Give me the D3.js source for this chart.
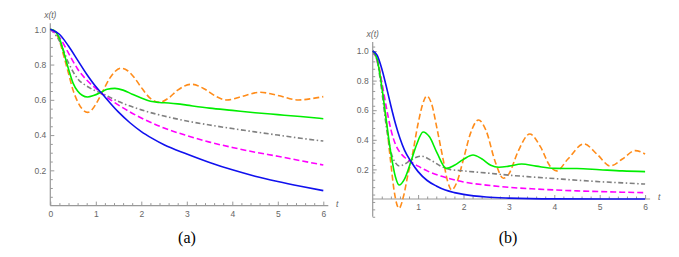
<!DOCTYPE html>
<html>
<head>
<meta charset="utf-8">
<script src="https://cdn.jsdelivr.net/npm/d3@7"></script>
<style>
  body { margin: 0; background: #fff; }
  svg { display: block; }
  .tick text { font-family: "Liberation Sans", Arial, sans-serif; font-size: 8.5px; fill: #666; }
  .tick line { stroke: #999; }
  .domain { stroke: #999; }
  .lbl { font-family: "Liberation Sans", Arial, sans-serif; font-size: 8.5px; font-style: italic; fill: #666; }
  .cap { font-family: "Liberation Serif", "Times New Roman", serif; font-size: 16px; fill: #000; }
</style>
</head>
<body>
<div id="chart"></div>
<script>
// Values: [t, x(t)]
// panel (a)
var blueA = [[0,1],[0.2,0.972],[0.4,0.905],[0.6,0.825],[0.8,0.745],[1.0,0.675],[1.13,0.637],[1.5,0.53],[1.75,0.47],[2.0,0.42],[2.25,0.38],[2.5,0.345],[3.0,0.293],[3.5,0.245],[4.0,0.203],[4.5,0.167],[5.0,0.137],[5.5,0.11],[6.0,0.085]];
var magentaA = [[0,1],[0.2,0.955],[0.4,0.865],[0.6,0.775],[0.8,0.712],[1.0,0.665],[1.13,0.637],[1.5,0.57],[2.0,0.497],[2.5,0.44],[3.0,0.397],[3.5,0.36],[4.0,0.33],[4.5,0.303],[5.0,0.28],[5.5,0.255],[6.0,0.23]];
var grayA = [[0,1],[0.2,0.935],[0.4,0.81],[0.6,0.72],[0.8,0.678],[1.0,0.65],[1.13,0.637],[1.5,0.59],[2.0,0.543],[2.5,0.508],[3.0,0.48],[3.5,0.457],[4.0,0.437],[4.5,0.418],[5.0,0.4],[5.5,0.382],[6.0,0.366]];
var greenA = [[0,1],[0.1,0.99],[0.2,0.95],[0.3,0.865],[0.4,0.775],[0.5,0.695],[0.6,0.65],[0.7,0.626],[0.82,0.616],[0.95,0.624],[1.13,0.645],[1.25,0.66],[1.42,0.665],[1.6,0.655],[1.8,0.632],[2.0,0.61],[2.2,0.592],[2.4,0.585],[2.6,0.582],[2.8,0.577],[3.0,0.57],[3.5,0.553],[4.0,0.54],[4.5,0.527],[5.0,0.516],[5.5,0.505],[6.0,0.493]];
var orangeA = [[0,1],[0.1,0.985],[0.2,0.935],[0.3,0.845],[0.4,0.75],[0.5,0.655],[0.6,0.59],[0.7,0.548],[0.82,0.529],[0.92,0.545],[1.0,0.575],[1.13,0.637],[1.3,0.72],[1.42,0.76],[1.55,0.779],[1.7,0.765],[1.85,0.725],[2.0,0.67],[2.2,0.608],[2.4,0.586],[2.6,0.61],[2.8,0.655],[3.1,0.688],[3.4,0.66],[3.65,0.618],[3.88,0.599],[4.2,0.618],[4.61,0.643],[5.0,0.625],[5.45,0.599],[5.75,0.607],[6.0,0.618]];

// panel (b)
var blueB = [[0,1],[0.1,0.97],[0.2,0.88],[0.3,0.76],[0.4,0.63],[0.5,0.51],[0.6,0.41],[0.7,0.33],[0.85,0.25],[1.0,0.185],[1.2,0.125],[1.4,0.088],[1.6,0.06],[1.8,0.043],[2.0,0.031],[2.5,0.013],[3.0,0.006],[4.0,0.001],[6.0,0]];
var magentaB = [[0,1],[0.1,0.93],[0.2,0.79],[0.3,0.62],[0.4,0.47],[0.5,0.37],[0.6,0.315],[0.7,0.282],[0.85,0.25],[1.0,0.222],[1.2,0.19],[1.5,0.155],[2.0,0.115],[2.5,0.094],[3.0,0.079],[3.5,0.069],[4.0,0.061],[4.5,0.055],[5.0,0.05],[5.5,0.046],[6.0,0.043]];
var grayB = [[0,1],[0.1,0.93],[0.2,0.73],[0.3,0.49],[0.4,0.32],[0.5,0.245],[0.59,0.223],[0.7,0.235],[0.85,0.265],[1.07,0.29],[1.3,0.258],[1.5,0.222],[1.7,0.2],[2.0,0.19],[2.5,0.176],[3.0,0.161],[3.5,0.149],[4.0,0.138],[4.5,0.127],[5.0,0.117],[5.5,0.109],[6.0,0.101]];
var greenB = [[0,1],[0.1,0.94],[0.2,0.76],[0.3,0.53],[0.4,0.31],[0.5,0.15],[0.58,0.095],[0.7,0.135],[0.85,0.26],[0.97,0.37],[1.11,0.453],[1.25,0.42],[1.42,0.31],[1.62,0.207],[1.8,0.228],[2.0,0.268],[2.21,0.297],[2.4,0.272],[2.6,0.228],[2.78,0.215],[3.0,0.222],[3.28,0.236],[3.6,0.222],[4.0,0.207],[4.5,0.206],[5.0,0.198],[5.5,0.19],[6.0,0.185]];
var orangeB = [[0,1],[0.1,0.95],[0.2,0.78],[0.3,0.52],[0.4,0.24],[0.47,0.06],[0.58,-0.063],[0.68,0.02],[0.78,0.17],[0.85,0.26],[1.0,0.51],[1.1,0.64],[1.19,0.696],[1.3,0.64],[1.42,0.47],[1.55,0.27],[1.65,0.12],[1.74,0.061],[1.85,0.11],[2.0,0.27],[2.15,0.44],[2.33,0.534],[2.5,0.46],[2.7,0.25],[2.88,0.14],[3.0,0.17],[3.2,0.32],[3.46,0.439],[3.7,0.35],[3.9,0.225],[4.05,0.19],[4.3,0.27],[4.65,0.372],[4.95,0.3],[5.23,0.223],[5.5,0.27],[5.78,0.327],[6.0,0.304]];

var xMajor = [0, 1, 2, 3, 4, 5, 6];
var yMajor = [0.2, 0.4, 0.6, 0.8, 1.0];

var svg = d3.select("#chart")
  .append("svg")
  .attr("width", 679)
  .attr("height", 257);

var styles = {
  blue: { color: "#1010ee", dash: null },
  magenta: { color: "#ff00ff", dash: "6,3" },
  gray: { color: "#808080", dash: "5,2.5,1.5,2.5" },
  green: { color: "#00ee00", dash: null },
  orange: { color: "#ff8c1a", dash: "6,3" }
};

function drawPanel(p) {
  var x = d3.scaleLinear().domain([0, 6]).range([p.x0, p.x1]);
  var y = d3.scaleLinear().domain([0, 1]).range([p.y0, p.y1]);

  var g = svg.append("g");

  // minor ticks
  var xMinor = d3.range(0, 6.01, 0.2).filter(function(v) { return Math.abs(v - Math.round(v)) > 1e-6; });
  var yMinor = d3.range(p.yMin, p.yMax, 0.05).map(function(v) { return Math.round(v * 100) / 100; })
    .filter(function(v) { return Math.abs(v * 5 - Math.round(v * 5)) > 1e-6; });

  g.append("g")
    .attr("transform", "translate(0," + y(0) + ")")
    .call(d3.axisBottom(x).tickValues(xMinor).tickSize(-2.5).tickFormat(""))
    .call(function(s) { s.select(".domain").remove(); });

  g.append("g")
    .attr("transform", "translate(" + x(0) + ",0)")
    .call(d3.axisLeft(y).tickValues(yMinor).tickSize(-2.5).tickFormat(""))
    .call(function(s) { s.select(".domain").remove(); });

  // major ticks + labels
  var xa = g.append("g")
    .attr("transform", "translate(0," + y(0) + ")")
    .call(d3.axisBottom(x).tickValues(p.xTicks).tickSize(-4).tickPadding(5).tickFormat(d3.format("d")));
  xa.select(".domain").remove();

  var ya = g.append("g")
    .attr("transform", "translate(" + x(0) + ",0)")
    .call(d3.axisLeft(y).tickValues(yMajor).tickSize(-4).tickPadding(4).tickFormat(d3.format(".1f")));
  ya.select(".domain").remove();

  // axis lines
  g.append("line").attr("x1", x(0)).attr("x2", x(6) + 5)
    .attr("y1", y(0)).attr("y2", y(0)).attr("stroke", "#999").attr("stroke-width", 1.2);
  g.append("line").attr("x1", x(0)).attr("x2", x(0))
    .attr("y1", y(p.yMin)).attr("y2", y(p.yMax)).attr("stroke", "#999").attr("stroke-width", 1.2);

  g.append("text").attr("class", "lbl")
    .attr("x", x(6) + 14).attr("y", y(0) - 1)
    .attr("text-anchor", "middle").attr("dominant-baseline", "middle")
    .text("t");
  g.append("text").attr("class", "lbl")
    .attr("x", x(0)).attr("y", y(p.yMax) - 5)
    .attr("text-anchor", "middle")
    .text("x(t)");

  var line = d3.line()
    .x(function(d) { return x(d[0]); })
    .y(function(d) { return y(d[1]); })
    .curve(d3.curveMonotoneX);

  p.series.forEach(function(s) {
    g.append("path")
      .datum(s.data)
      .attr("fill", "none")
      .attr("stroke", styles[s.key].color)
      .attr("stroke-width", 1.6)
      .attr("stroke-dasharray", styles[s.key].dash)
      .attr("d", line);
  });

  g.append("text").attr("class", "cap")
    .attr("x", p.capX).attr("y", 243)
    .attr("text-anchor", "middle")
    .text(p.caption);
}

drawPanel({
  x0: 50.3, x1: 323.3, y0: 205.6, y1: 29.3,
  yMin: 0, yMax: 1.034,
  xTicks: xMajor,
  caption: "(a)", capX: 187,
  series: [
    { key: "orange", data: orangeA },
    { key: "gray", data: grayA },
    { key: "magenta", data: magentaA },
    { key: "green", data: greenA },
    { key: "blue", data: blueA }
  ]
});

drawPanel({
  x0: 372.7, x1: 645.1, y0: 199, y1: 51,
  yMin: -0.12, yMax: 1.06,
  xTicks: xMajor.slice(1),
  caption: "(b)", capX: 508,
  series: [
    { key: "orange", data: orangeB },
    { key: "gray", data: grayB },
    { key: "magenta", data: magentaB },
    { key: "green", data: greenB },
    { key: "blue", data: blueB }
  ]
});
</script>
</body>
</html>
